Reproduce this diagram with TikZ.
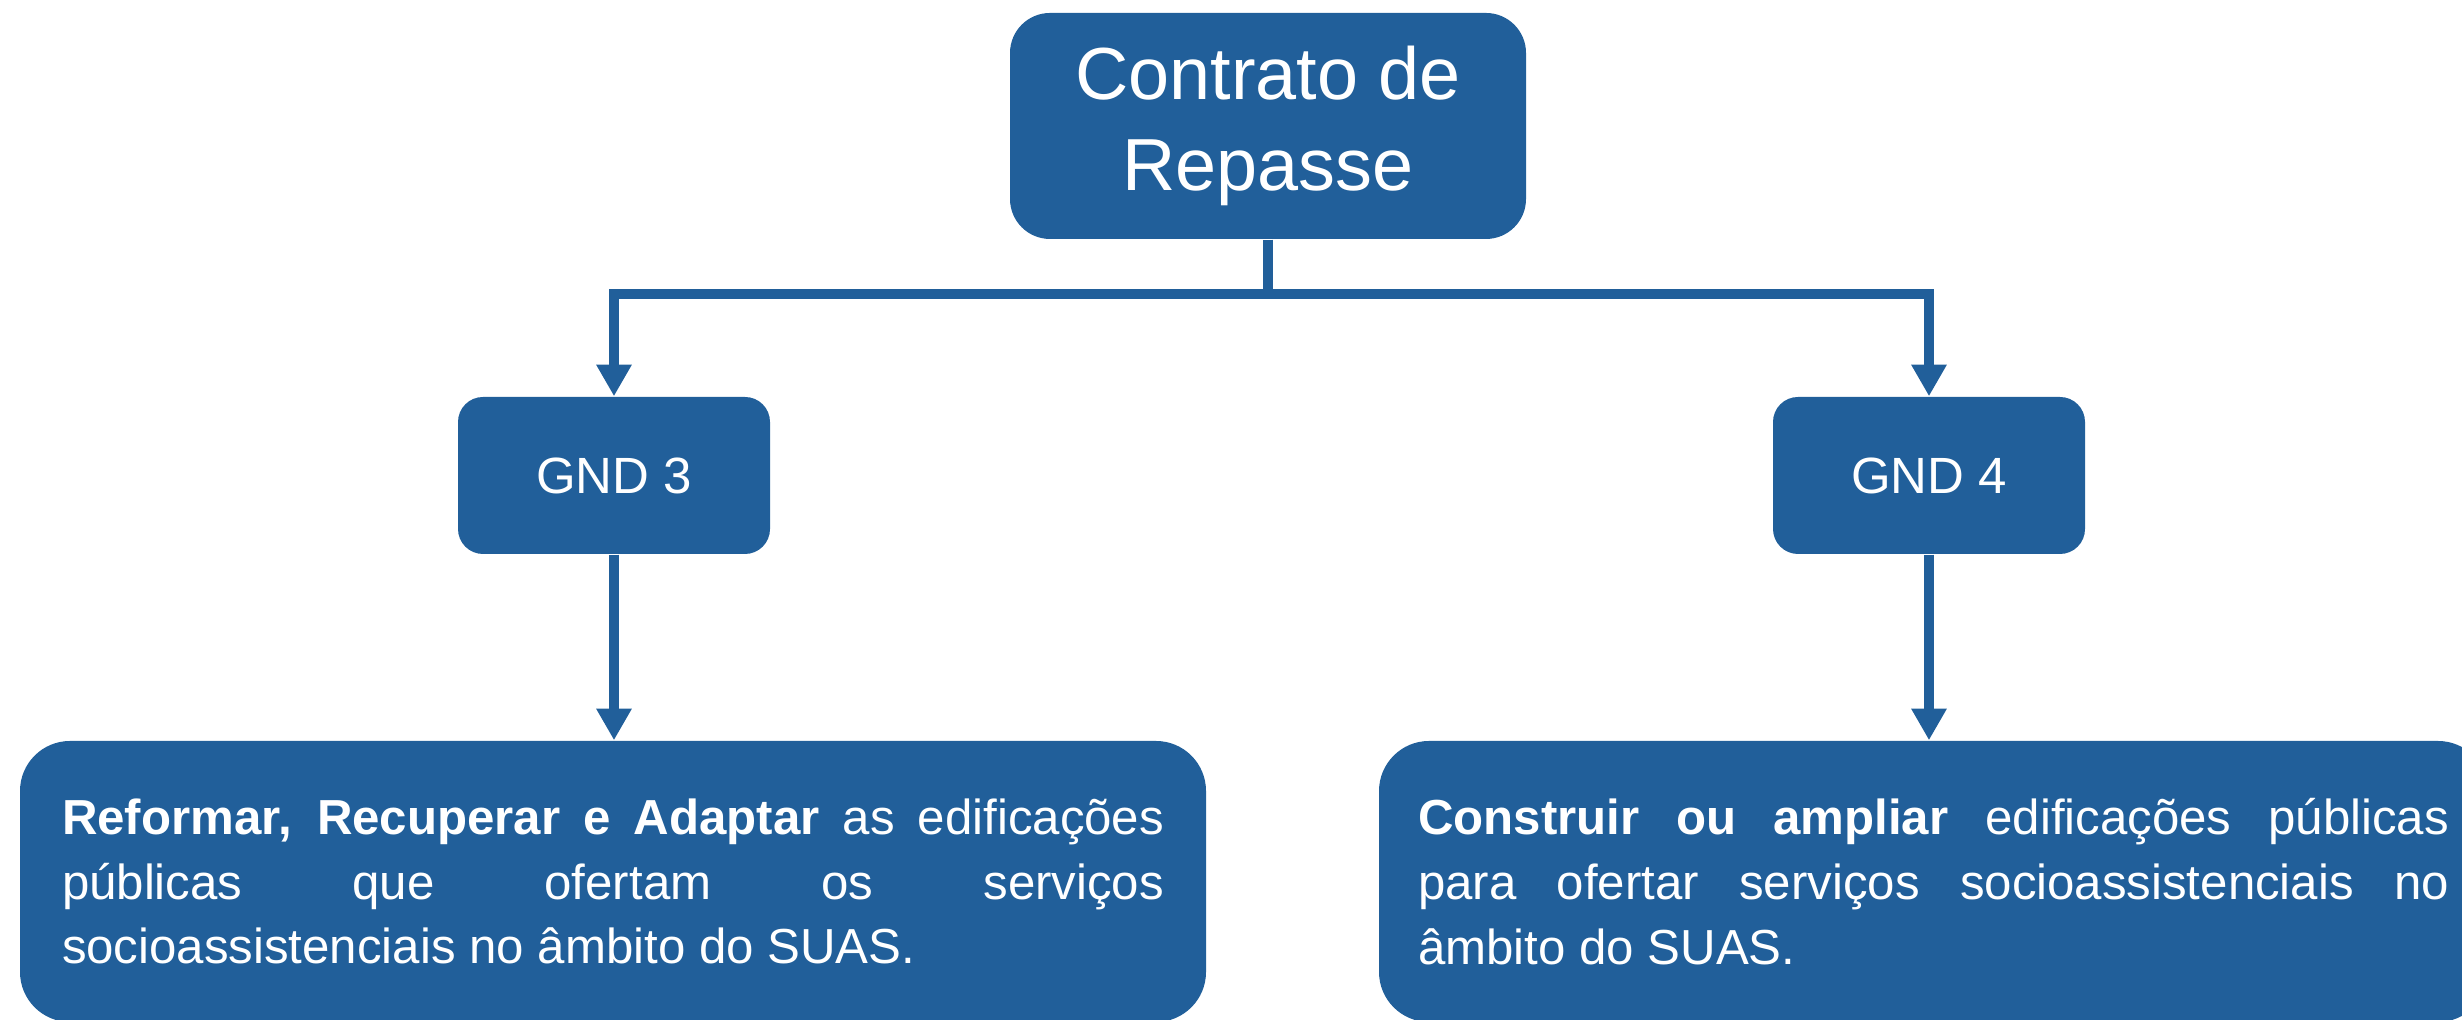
\documentclass[tikz,border=0pt]{standalone}
\usepackage{fontspec}
\setmainfont{Liberation Sans}
\usetikzlibrary{arrows.meta}
\definecolor{repasseblue}{RGB}{33,95,154}

\begin{document}
\begin{tikzpicture}[
  caixa/.style={fill=repasseblue, text=white, rounded corners=0.4cm},
  ligacao/.style={draw=repasseblue, line width=2.9pt},
  seta/.style={ligacao, -{Triangle[width=9.5pt,length=9pt]}}
]

\useasboundingbox (0,0) rectangle (24.62,10.20);

\node[caixa, minimum width=5.16cm, minimum height=2.26cm, align=center, font=\fontsize{21}{26}\selectfont] (contrato) at (12.68, 8.94) {Contrato de\\Repasse};

\node[caixa, rounded corners=0.25cm, minimum width=3.12cm, minimum height=1.57cm, font=\fontsize{14.5}{17}\selectfont] (gnd3) at (6.14, 5.445) {GND 3};
\node[caixa, rounded corners=0.25cm, minimum width=3.12cm, minimum height=1.57cm, font=\fontsize{14.5}{17}\selectfont] (gnd4) at (19.29, 5.445) {GND 4};

\node[caixa, rounded corners=0.5cm, text width=11.02cm, inner xsep=0.42cm, minimum height=2.81cm, align=justify, font=\fontsize{14}{18.4}\selectfont] (reformar) at (6.13, 1.385) {\textbf{Reformar, Recuperar e Adaptar} as edificações\linebreak públicas que ofertam os serviços\linebreak socioassistenciais no âmbito do SUAS.};
\node[caixa, rounded corners=0.5cm, text width=10.31cm, inner xsep=0.39cm, minimum height=2.81cm, align=justify, font=\fontsize{14}{18.4}\selectfont] (construir) at (19.335, 1.385) {\textbf{Construir ou ampliar} edificações públicas\linebreak para ofertar serviços socioassistenciais no\linebreak âmbito do SUAS.};

\coordinate (barra) at (12.68, 7.26);
\draw[ligacao] (contrato.south) -- (barra);
\draw[seta] (barra) -| (gnd3.north);
\draw[seta] (barra) -| (gnd4.north);

\draw[seta] (gnd3.south) -- (gnd3.south |- reformar.north);
\draw[seta] (gnd4.south) -- (gnd4.south |- construir.north);

\end{tikzpicture}
\end{document}
